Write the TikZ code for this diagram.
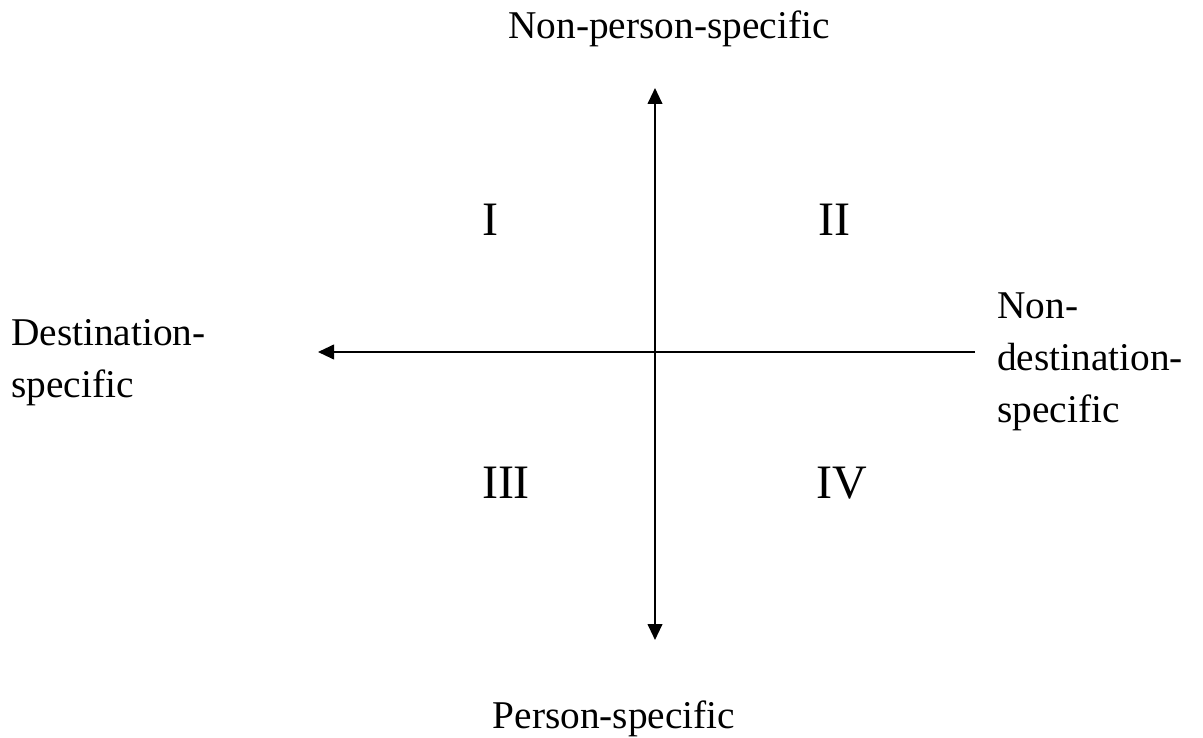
\documentclass[tikz,border=0pt]{standalone}
\usepackage{fontspec}
\setmainfont{Liberation Serif}
\usetikzlibrary{positioning,arrows.meta}
\tikzset{
	x=0.75pt,y=-0.75pt,% one unit is one pixel of the layout, y runs downwards
	axis/.style ={line width=1.5pt, -{Triangle[length=12pt,width=11pt]}},
	label/.style = {inner sep=0pt, align=left, font=\fontsize{29.5}{39}\selectfont},
	quadrant/.style = {inner sep=0pt, font=\fontsize{36}{43}\selectfont}
}

\begin{document}
\begin{tikzpicture}
            \useasboundingbox (0,0) rectangle (1203,738);
            \coordinate (top) at (655,88);
            \coordinate (bottom) at (655,640);
            \coordinate (left) at (318,352);
            \coordinate (right) at (975,352);
            \node[label, anchor=base] (npers) at (669,39) {Non-person-specific};
            \node[label, anchor=base] (pers) at (614,728) {Person-specific};
            \node[label, anchor=base west] (dest) at (11,397) {Destination-\\specific};
            \node[label, anchor=base west] (ndest) at (997,422) {Non-\\destination-\\specific};
            \node[quadrant, anchor=base] (q1) at (490,235) {I};
            \node[quadrant, anchor=base] (q2) at (834,235) {II};
            \node[quadrant, anchor=base] (q3) at (506,498) {III};
            \node[quadrant, anchor=base] (q4) at (842,498) {IV};
            \draw[axis, {Triangle[length=12pt,width=11pt]}-{Triangle[length=12pt,width=11pt]}] (bottom) -- (top);
            \draw[axis] (right) -- (left);
\end{tikzpicture}
\end{document}
